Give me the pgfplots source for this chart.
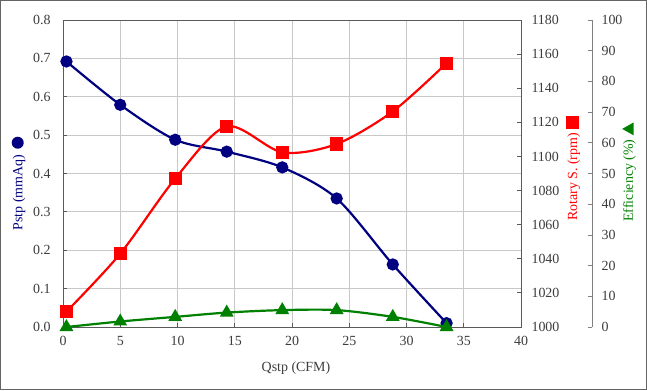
\documentclass[border=0pt]{standalone}
\usepackage{fontspec}
\setmainfont{Liberation Serif}
\usepackage{pgfplots}
\pgfplotsset{compat=1.18}
\definecolor{cblue}{RGB}{0,0,128}
\definecolor{cred}{RGB}{255,0,0}
\definecolor{cgreen}{RGB}{0,128,0}
\definecolor{axgray}{RGB}{90,90,90}
\definecolor{gridgray}{RGB}{200,200,200}
\definecolor{framegray}{RGB}{100,100,100}
\definecolor{txtgray}{RGB}{60,60,60}
\pgfplotsset{
  base/.style={
    scale only axis, width=458bp, height=307bp,
    at={(63bp,63bp)}, anchor=south west,
    xmin=0, xmax=40, clip=false,
    font=\fontsize{14}{16}\selectfont,
    tick label style={font=\fontsize{14}{16}\selectfont, text=txtgray},
    /pgf/number format/assume math mode=true,
    /pgf/number format/set thousands separator={},
    tick align=inside, major tick length=4bp,
    axis line style={axgray, line width=1bp},
    tick style={axgray, line width=0.8bp},
  }
}
\begin{document}
\begin{tikzpicture}[x=1bp,y=1bp]
\path[use as bounding box] (0,0) rectangle (647,390);
\draw[line width=1bp, framegray] (0.5,0.5) rectangle (646.5,389.5);

% Pstp axis
\begin{axis}[base,
  ymin=0, ymax=0.8,
  ytick={0,0.1,0.2,0.3,0.4,0.5,0.6,0.7,0.8},
  xtick={0,5,10,15,20,25,30,35,40},
  grid=major, grid style={gridgray, line width=1bp},
  xtick pos=bottom, ytick pos=left,
  yticklabel style={/pgf/number format/fixed, /pgf/number format/fixed zerofill, /pgf/number format/precision=1, xshift=-9bp},
  xticklabel style={yshift=-6bp},
]
\addplot[cblue, line width=2.2bp, smooth, tension=0.5, mark=*, mark size=5bp, mark options={solid, fill=cblue}]
coordinates {(0.3,0.692) (5.0,0.579) (9.8,0.488) (14.3,0.457) (19.15,0.416) (23.9,0.335) (28.8,0.163) (33.5,0.010)};
\end{axis}

% Rotary speed axis
\begin{axis}[base,
  ymin=1000, ymax=1180,
  ytick={1000,1020,1040,1060,1080,1100,1120,1140,1160,1180},
  axis y line*=right, axis x line=none,
  yticklabel style={xshift=7bp},
]
\addplot[cred, line width=2.2bp, smooth, tension=0.5, mark=square*, mark size=5.5bp, mark options={solid, fill=cred}]
coordinates {(0.3,1009) (5.0,1043) (9.8,1087) (14.3,1117.6) (19.15,1102.4) (23.9,1107.3) (28.8,1126.4) (33.5,1154.7)};
\end{axis}

% Efficiency data
\begin{axis}[base, ymin=0, ymax=100, hide axis]
\addplot[cgreen, line width=2.2bp, smooth, tension=0.5, mark=triangle*, mark size=5.8bp, mark options={solid, fill=cgreen}]
coordinates {(0.3,0) (5.0,1.8) (9.8,3.3) (14.3,4.7) (19.15,5.5) (23.9,5.5) (28.8,3.3) (33.5,0)};
\end{axis}

% Efficiency scale
\begin{axis}[scale only axis, width=1bp, height=307bp,
  at={(591bp,63bp)}, anchor=south west,
  xmin=0, xmax=1, ymin=0, ymax=100,
  axis y line*=right, axis x line=none,
  ytick={0,10,20,30,40,50,60,70,80,90,100},
  font=\fontsize{14}{16}\selectfont,
  tick label style={font=\fontsize{14}{16}\selectfont, text=txtgray},
  /pgf/number format/assume math mode=true,
  tick align=inside, major tick length=4bp,
  axis line style={gray, line width=1bp},
  tick style={gray, line width=0.8bp},
  yticklabel style={xshift=6bp},
]
\addplot[draw=none] coordinates {(0,0)};
\end{axis}

\node[font=\fontsize{14}{16}\selectfont, text=txtgray] at (296,22) {Qstp (CFM)};
\node[rotate=90, font=\fontsize{14}{16}\selectfont, text=cblue] at (18.5,206.5)
  {Pstp (mmAq)\hspace{6bp}\tikz[baseline={(0,-0.33em)}]\fill[cblue] (0,0) circle (6bp);};
\node[rotate=90, font=\fontsize{14}{16}\selectfont, text=cred] at (573,221.5)
  {Rotary S. (rpm)\hspace{4bp}\tikz[baseline={(0,-0.33em)}]\fill[cred] (-6.5bp,-6.5bp) rectangle (6.5bp,6.5bp);};
\node[rotate=90, font=\fontsize{14}{16}\selectfont, text=cgreen] at (629,218)
  {Efficiency (\%)\hspace{4bp}\tikz[baseline={(0,-0.33em)}]\fill[cgreen] (-6.5bp,-5.5bp) -- (6.5bp,-5.5bp) -- (0,6bp) -- cycle;};
\end{tikzpicture}
\end{document}
